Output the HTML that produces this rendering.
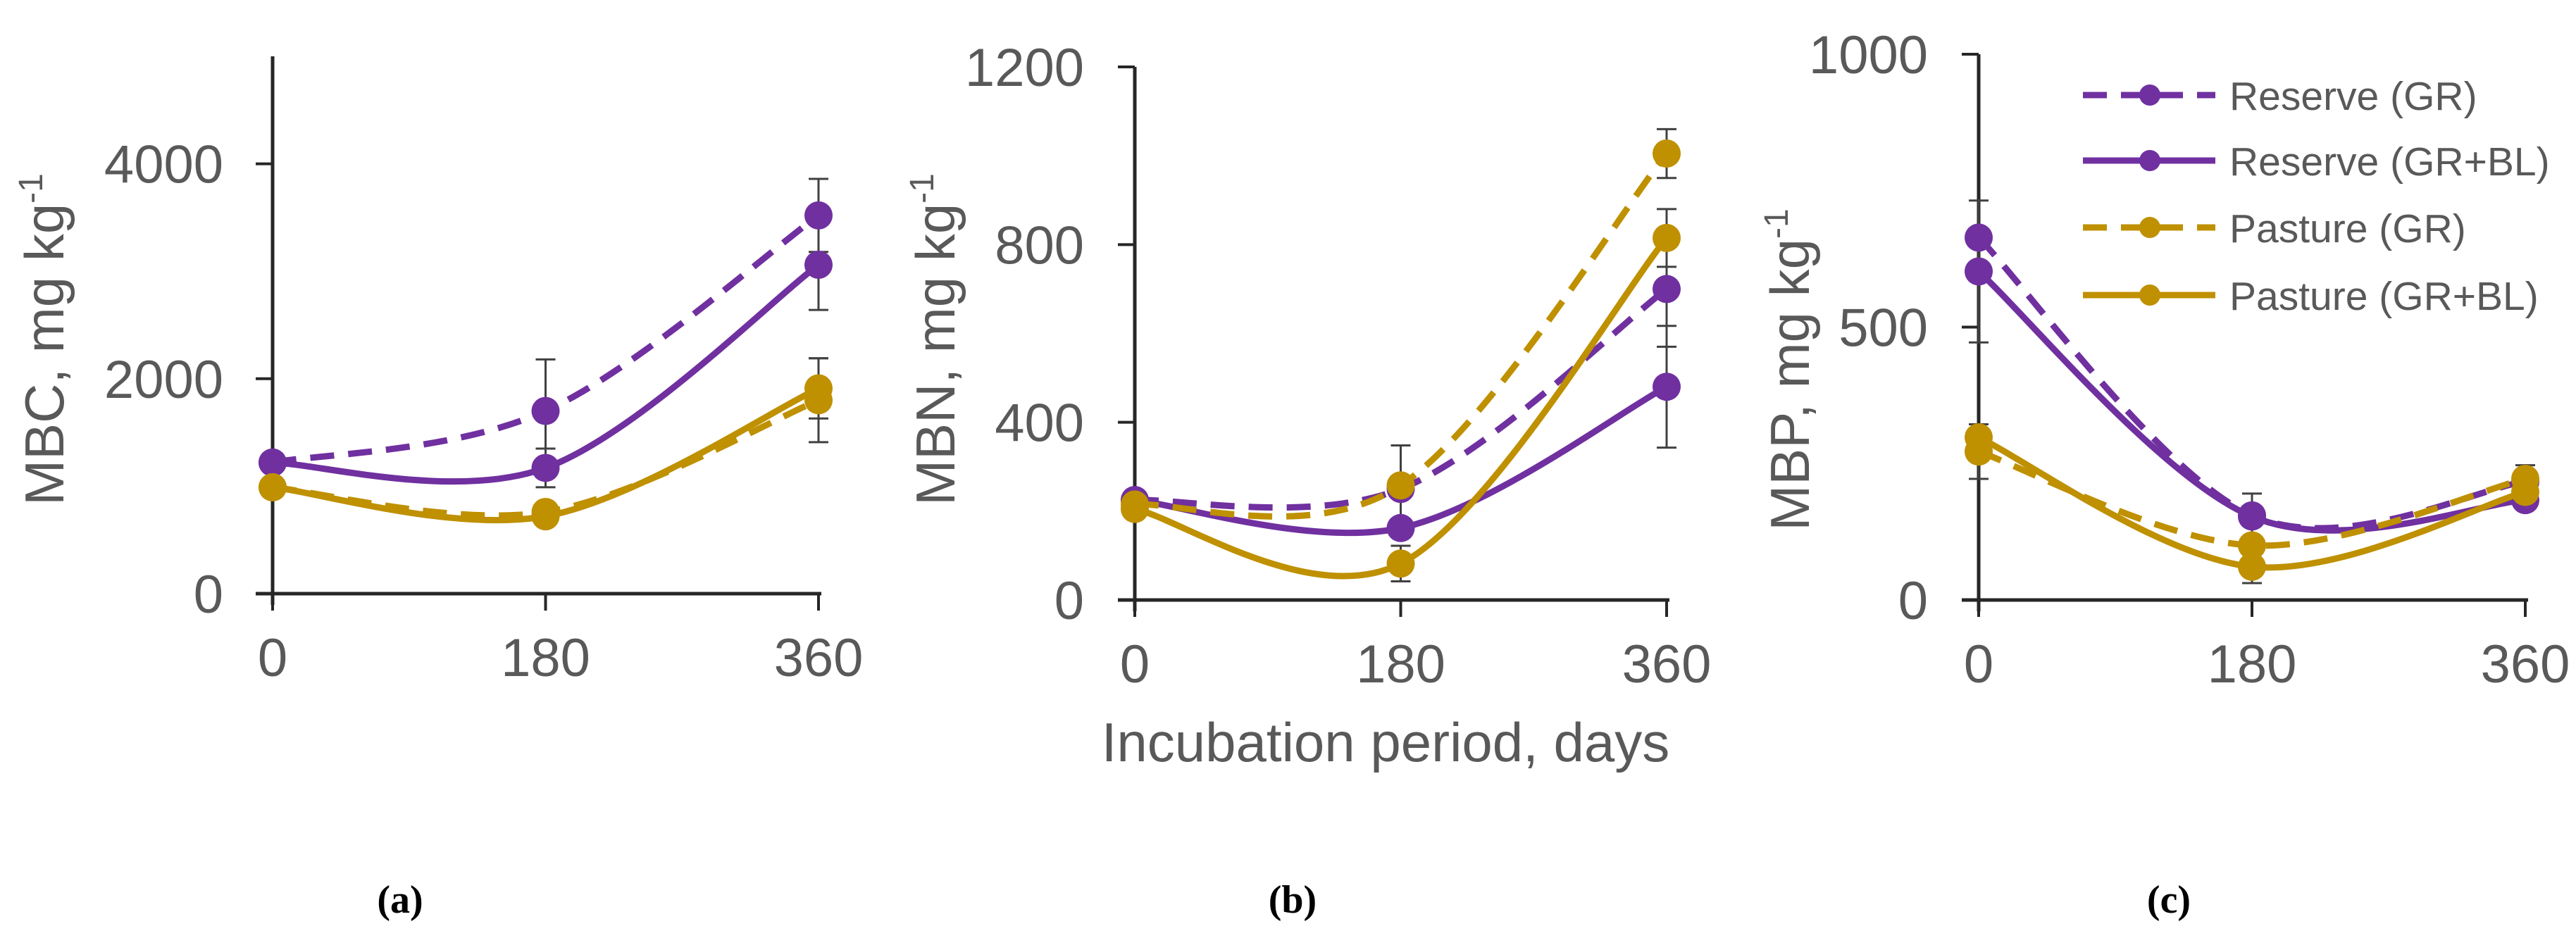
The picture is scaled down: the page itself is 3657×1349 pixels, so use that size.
<!DOCTYPE html>
<html><head><meta charset="utf-8"><style>
html,body{margin:0;padding:0;background:#fff;}
svg{display:block;font-family:"Liberation Sans",Arial,sans-serif;}
</style></head><body>
<svg id="fig" width="3657" height="1349" viewBox="0 0 3657 1349"></svg>
<script>
const days = [0, 180, 360];
const seriesNames = ["Reserve (GR)", "Reserve (GR+BL)", "Pasture (GR)", "Pasture (GR+BL)"];
const mbcReserveGR = [1220, 1700, 3520];
const mbcReserveGRBL = [1220, 1170, 3060];
const mbcPastureGR = [990, 760, 1800];
const mbcPastureGRBL = [990, 720, 1910];
const mbcErrReserveGR = [0, 480, 340];
const mbcErrReserveGRBL = [0, 180, 420];
const mbcErrPastureGR = [0, 0, 390];
const mbcErrPastureGRBL = [0, 0, 280];
const mbnReserveGR = [225, 250, 700];
const mbnReserveGRBL = [225, 162, 480];
const mbnPastureGR = [215, 258, 1005];
const mbnPastureGRBL = [205, 82, 815];
const mbnErrReserveGR = [0, 0, 130];
const mbnErrReserveGRBL = [0, 0, 137];
const mbnErrPastureGR = [0, 90, 55];
const mbnErrPastureGRBL = [0, 40, 65];
const mbpReserveGR = [664, 155, 217];
const mbpReserveGRBL = [602, 153, 183];
const mbpPastureGR = [272, 100, 222];
const mbpPastureGRBL = [298, 61, 198];
const mbpErrReserveGR = [0, 40, 30];
const mbpErrReserveGRBL = [130, 0, 0];
const mbpErrPastureGR = [50, 0, 0];
const mbpErrPastureGRBL = [0, 30, 0];
const ticksA = [0, 2000, 4000];
const ticksB = [0, 400, 800, 1200];
const ticksC = [0, 500, 1000];

const NS = "http://www.w3.org/2000/svg";
const svg = document.getElementById("fig");
const PURPLE = "#7030A0", GOLD = "#BF9000";
function mk(tag, attrs, parent){const e=document.createElementNS(NS,tag);for(const k in attrs)e.setAttribute(k,attrs[k]);(parent||svg).appendChild(e);return e;}

function smoothPath(pts){
  let d = "M" + pts[0][0] + "," + pts[0][1];
  for(let i=0;i<pts.length-1;i++){
    const p0=pts[Math.max(i-1,0)], p1=pts[i], p2=pts[i+1], p3=pts[Math.min(i+2,pts.length-1)];
    const c1=[p1[0]+(p2[0]-p0[0])/6, p1[1]+(p2[1]-p0[1])/6];
    const c2=[p2[0]-(p3[0]-p1[0])/6, p2[1]-(p3[1]-p1[1])/6];
    d += " C"+c1[0]+","+c1[1]+" "+c2[0]+","+c2[1]+" "+p2[0]+","+p2[1];
  }
  return d;
}

function panel(cfg){
  const g = mk("g", {});
  
  
  const xs = v => cfg.x0 + (cfg.x1 - cfg.x0) * v / 360;
  const ys = v => cfg.y0 - (cfg.y0 - cfg.yTop) * v / cfg.ymax;
  const ya = mk("line", {x1:cfg.x0, y1:cfg.yTop, x2:cfg.x0, y2:cfg.y0+16, stroke:"#262626","stroke-width":5}, g);
  
  
  const xa = mk("line", {x1:cfg.x0-24, y1:cfg.y0, x2:cfg.x1+4, y2:cfg.y0, stroke:"#262626","stroke-width":5}, g);
  
  
  cfg.ticks.forEach(t=>{
    const tl = mk("line",{x1:cfg.x0-24,y1:ys(t),x2:cfg.x0,y2:ys(t),stroke:"#262626","stroke-width":4},g);
    
    
    const tx = mk("text",{x:cfg.labelRight,y:ys(t)+27,"text-anchor":"end","font-size":76,fill:"#595959"},g);
    tx.textContent = t;
    
    
  });
  days.forEach(d=>{
    const tl = mk("line",{x1:xs(d),y1:cfg.y0,x2:xs(d),y2:cfg.y0+24,stroke:"#262626","stroke-width":4},g);
    
    
    const tx = mk("text",{x:xs(d),y:cfg.y0+117,"text-anchor":"middle","font-size":76,fill:"#595959"},g);
    tx.textContent = d;
    
    
  });
  const yt = mk("text",{x:0,y:0,"text-anchor":"middle","font-size":78,fill:"#595959",transform:"translate("+(cfg.titleX)+","+cfg.titleY+") rotate(-90)"},g);
  yt.innerHTML = cfg.ytitle + ', mg kg<tspan dy="-30" font-size="48">-1</tspan>';
  
  
  const cap = mk("text",{x:cfg.capX,y:1296,"text-anchor":"middle","font-size":56,"font-weight":"bold","font-family":"Liberation Serif, serif",fill:"#000"},g);
  cap.textContent = cfg.caption;
  
  
  cfg.series.forEach(s=>{
    s.vals.forEach((v,i)=>{
      const e = s.err[i]; if(!e) return;
      const x = xs(days[i]);
      const eb = mk("path",{d:"M"+x+","+ys(v-e)+" V"+ys(v+e)+" M"+(x-14)+","+ys(v-e)+" H"+(x+14)+" M"+(x-14)+","+ys(v+e)+" H"+(x+14),stroke:"#404040","stroke-width":3,fill:"none"},g);
      
      
    });
  });
  cfg.series.forEach(s=>{
    const pts = s.vals.map((v,i)=>[xs(days[i]), ys(v)]);
    const p = mk("path",{d:smoothPath(pts),stroke:s.color,"stroke-width":9,fill:"none","stroke-dasharray":s.dash?"34 20":"none"},g);
    
    
    pts.forEach(pt=>{
      const c = mk("circle",{cx:pt[0],cy:pt[1],r:20,fill:s.color},g);
      
      
    });
  });
}

panel({name:"panel-a-mbc", x0:387, x1:1162, y0:843, yTop:80, ymax:5000, ticks:ticksA, labelRight:317, titleX:90, titleY:482, ytitle:"MBC", caption:"(a)", capX:568,
  series:[
    {vals:mbcReserveGR, err:mbcErrReserveGR, color:PURPLE, dash:true},
    {vals:mbcReserveGRBL, err:mbcErrReserveGRBL, color:PURPLE, dash:false},
    {vals:mbcPastureGR, err:mbcErrPastureGR, color:GOLD, dash:true},
    {vals:mbcPastureGRBL, err:mbcErrPastureGRBL, color:GOLD, dash:false}]});
panel({name:"panel-b-mbn", x0:1611, x1:2366, y0:852, yTop:95, ymax:1200, ticks:ticksB, labelRight:1539, titleX:1355, titleY:482, ytitle:"MBN", caption:"(b)", capX:1835,
  series:[
    {vals:mbnReserveGR, err:mbnErrReserveGR, color:PURPLE, dash:true},
    {vals:mbnReserveGRBL, err:mbnErrReserveGRBL, color:PURPLE, dash:false},
    {vals:mbnPastureGR, err:mbnErrPastureGR, color:GOLD, dash:true},
    {vals:mbnPastureGRBL, err:mbnErrPastureGRBL, color:GOLD, dash:false}]});
panel({name:"panel-c-mbp", x0:2809, x1:3585, y0:852, yTop:77, ymax:1000, ticks:ticksC, labelRight:2737, titleX:2568, titleY:525, ytitle:"MBP", caption:"(c)", capX:3079,
  series:[
    {vals:mbpReserveGR, err:mbpErrReserveGR, color:PURPLE, dash:true},
    {vals:mbpReserveGRBL, err:mbpErrReserveGRBL, color:PURPLE, dash:false},
    {vals:mbpPastureGR, err:mbpErrPastureGR, color:GOLD, dash:true},
    {vals:mbpPastureGRBL, err:mbpErrPastureGRBL, color:GOLD, dash:false}]});

const xt = mk("text",{x:1967,y:1081,"text-anchor":"middle","font-size":78,fill:"#595959"});
xt.textContent = "Incubation period, days";



const legColors = [PURPLE, PURPLE, GOLD, GOLD];
const legDash = [true, false, true, false];
const legY = [135, 228, 323, 419];
seriesNames.forEach((n,i)=>{
  const g = mk("g",{});
  
  
  mk("line",{x1:2957,y1:legY[i],x2:3145,y2:legY[i],stroke:legColors[i],"stroke-width":9,"stroke-dasharray":legDash[i]?"34 20":"none"},g);
  mk("circle",{cx:3052,cy:legY[i],r:15,fill:legColors[i]},g);
  const t = mk("text",{x:3165,y:legY[i]+21,"font-size":57,fill:"#595959"},g);
  t.textContent = n;
});
</script>
</body></html>
